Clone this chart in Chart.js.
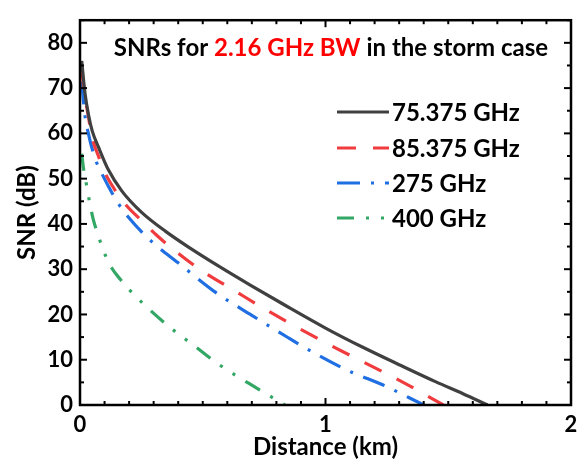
<!DOCTYPE html>
<html>
<head>
<meta charset="utf-8">
<script src="https://cdn.jsdelivr.net/npm/chart.js@4.4.1/dist/chart.umd.min.js"></script>
<style>
  html, body { margin: 0; padding: 0; background: #fff; }
  #c { display: block; }
</style>
</head>
<body>
<canvas id="c" width="586" height="464"></canvas>
<script>
// data (distance in km, SNR in dB)
const seriesNames = ['75.375 GHz', '85.375 GHz', '275 GHz', '400 GHz'];

const dist75 = [0.007, 0.02, 0.035, 0.05, 0.075, 0.115, 0.17, 0.25, 0.35, 0.45, 0.57, 0.69, 0.83, 1.0, 1.15, 1.3, 1.45, 1.56, 1.66];
const snr75  = [76, 69, 64, 60.5, 57, 52, 47.3, 42.6, 38.3, 34.6, 30.5, 26.6, 22.2, 17, 12.8, 8.9, 5.1, 2.5, 0];

const dist85 = [0.007, 0.02, 0.03, 0.05, 0.075, 0.1, 0.14, 0.19, 0.24, 0.31, 0.4, 0.5, 0.625, 0.75, 0.88, 1.02, 1.15, 1.32, 1.48];
const snr85  = [74, 68, 65, 59, 55, 51.5, 47.7, 44, 41.3, 37.6, 33.5, 29.5, 25.4, 21.3, 17.3, 13.2, 9.6, 4.9, 0];

const dist275 = [0.007, 0.02, 0.034, 0.05, 0.068, 0.09, 0.115, 0.15, 0.2, 0.29, 0.4, 0.557, 0.7, 0.85, 0.964, 1.1, 1.235, 1.4];
const snr275  = [71.5, 64, 60, 56.5, 53.5, 51, 48.4, 45, 41.3, 36.2, 31.4, 24.7, 19.8, 14.8, 11.2, 7.4, 4.4, 0];

const dist400 = [0.007, 0.015, 0.027, 0.04, 0.054, 0.075, 0.1, 0.13, 0.165, 0.2, 0.285, 0.37, 0.46, 0.57, 0.69, 0.835];
const snr400  = [55.5, 52, 48.5, 44.5, 41, 37.3, 33.5, 30.2, 27.7, 25.5, 21, 17, 13.3, 8.8, 4.7, 0];

const xTicks = [0, 1, 2];
const yTicks = [0, 10, 20, 30, 40, 50, 60, 70, 80];
const xMinorStep = 0.1;
const yMinorStep = 5;

const FONT = 'Lato, "Open Sans", sans-serif';
const CORES = ['#404040', '#f03c3e', '#1f6fe3', '#33a764'];
const TRACOS = [[], [19, 17], [23, 11, 3, 11], [17, 12, 3, 12, 3, 12]];

const pares = (xs, ys) => xs.map((x, i) => ({ x, y: ys[i] }));
const series = [pares(dist75, snr75), pares(dist85, snr85), pares(dist275, snr275), pares(dist400, snr400)];

// frame with inward ticks, multi-colour title, legend inside the plot
const moldura = {
  id: 'moldura',
  afterDraw(chart) {
    const { ctx, chartArea: a, scales: { x, y } } = chart;
    ctx.save();
    ctx.strokeStyle = '#000';
    ctx.lineWidth = 2;
    const tick = (px, py, dx, dy) => { ctx.beginPath(); ctx.moveTo(px, py); ctx.lineTo(px + dx, py + dy); ctx.stroke(); };
    for (let v = 0; v <= 2 + 1e-9; v += xMinorStep) {
      const px = x.getPixelForValue(v);
      const len = xTicks.some(t => Math.abs(t - v) < 1e-6) ? 7 : 4;
      tick(px, a.bottom, 0, -len);
      tick(px, a.top, 0, len);
    }
    for (let v = 0; v <= 85 + 1e-9; v += yMinorStep) {
      const py = y.getPixelForValue(v);
      const len = yTicks.includes(v) ? 7 : 4;
      tick(a.left, py, len, 0);
      tick(a.right, py, -len, 0);
    }
    ctx.lineWidth = 2.5;
    ctx.strokeRect(a.left, a.top, a.right - a.left, a.bottom - a.top);

    // title
    const partes = [['SNRs for ', '#000'], ['2.16 GHz BW', '#ff0000'], [' in the storm case', '#000']];
    ctx.font = 'bold 24px ' + FONT;
    ctx.textBaseline = 'middle';
    ctx.textAlign = 'left';
    const total = partes.reduce((s, p) => s + ctx.measureText(p[0]).width, 0);
    let tx = 331 - total / 2;
    partes.forEach(([t, c]) => { ctx.fillStyle = c; ctx.fillText(t, tx, 48); tx += ctx.measureText(t).width; });

    // legend
    const linhas = [112, 148, 183, 218];
    ctx.font = 'bold 24px ' + FONT;
    chart.data.datasets.forEach((ds, i) => {
      ctx.strokeStyle = ds.borderColor;
      ctx.lineWidth = ds.borderWidth;
      ctx.setLineDash(ds.borderDash);
      ctx.beginPath();
      ctx.moveTo(337, linhas[i]);
      ctx.lineTo(389, linhas[i]);
      ctx.stroke();
      ctx.setLineDash([]);
      ctx.fillStyle = '#000';
      ctx.fillText(ds.label, 392, linhas[i] + 1);
    });
    ctx.restore();
  }
};

new Chart(document.getElementById('c'), {
  type: 'line',
  data: {
    datasets: series.map((d, i) => ({
      label: seriesNames[i],
      data: d,
      borderColor: CORES[i],
      borderWidth: 3.2,
      borderDash: TRACOS[i],
      pointRadius: 0,
      fill: false,
      cubicInterpolationMode: 'monotone'
    }))
  },
  options: {
    responsive: false,
    animation: false,
    layout: { padding: { top: 10, right: 15, left: 0, bottom: 0 } },
    plugins: { legend: { display: false }, tooltip: { enabled: false } },
    scales: {
      x: {
        type: 'linear', min: 0, max: 2,
        afterBuildTicks: s => { s.ticks = xTicks.map(v => ({ value: v })); },
        afterFit: s => { s.height = 59; },
        grid: { display: false, drawTicks: false },
        border: { display: false },
        ticks: { padding: 7, color: '#000', maxRotation: 0, font: { family: FONT, size: 22, weight: 'bold' } },
        title: { display: true, text: 'Distance (km)', color: '#000', padding: { top: 0, bottom: 2 }, font: { family: FONT, size: 24, weight: 'bold' } }
      },
      y: {
        type: 'linear', min: 0, max: 85,
        afterBuildTicks: s => { s.ticks = yTicks.map(v => ({ value: v })); },
        afterFit: s => { s.width = 80; },
        grid: { display: false, drawTicks: false },
        border: { display: false },
        ticks: { padding: 7, color: '#000', font: { family: FONT, size: 22, weight: 'bold' } },
        title: { display: true, text: 'SNR (dB)', color: '#000', padding: { top: 13, bottom: 0 }, font: { family: FONT, size: 24, weight: 'bold' } }
      }
    }
  },
  plugins: [moldura]
});
</script>
</body>
</html>
